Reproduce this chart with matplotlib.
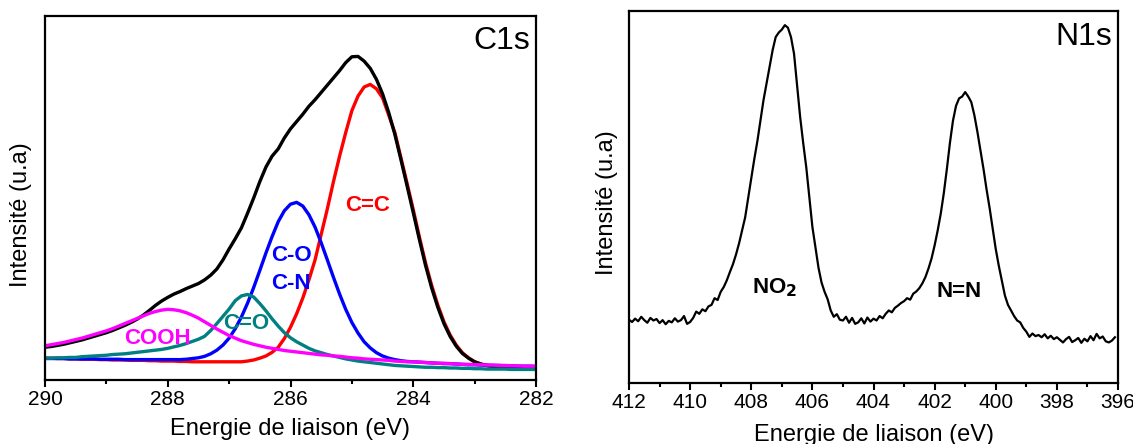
import numpy as np
import matplotlib
matplotlib.use("Agg")
import matplotlib.pyplot as plt
from matplotlib.ticker import MultipleLocator

plt.rcParams['font.family'] = ['Liberation Sans', 'DejaVu Sans']

# ---- C1s data (binding energy grid 290 -> 282, step 0.1 eV) ----
c1s_energy = np.linspace(290.0, 282.0, 81)

c1s_total = [9.0, 9.2, 9.5, 9.8, 10.2, 10.6, 11.0, 11.5, 12.0, 12.5,
             13.0, 13.6, 14.3, 15.0, 15.8, 16.7, 17.8, 19.1, 20.5, 21.7,
             22.7, 23.6, 24.3, 25.1, 25.8, 26.5, 27.5, 28.8, 30.5, 33.0,
             36.0, 38.8, 41.8, 45.8, 50.0, 54.5, 58.5, 61.5, 63.5, 66.5,
             69.0, 71.0, 73.0, 75.2, 77.0, 79.0, 81.0, 83.0, 85.0, 87.2,
             88.8, 88.9, 87.6, 85.6, 82.6, 78.6, 73.5, 67.5, 60.5, 53.3,
             46.0, 38.6, 31.5, 25.3, 20.0, 15.5, 12.0, 9.3, 7.3, 6.0,
             5.0, 4.4, 4.0, 3.7, 3.5, 3.4, 3.2, 3.1, 3.0, 3.0, 3.0]

c1s_cc = [6.0, 6.0, 5.9, 5.9, 5.8, 5.8, 5.7, 5.7, 5.7, 5.6,
          5.6, 5.5, 5.5, 5.5, 5.4, 5.4, 5.4, 5.3, 5.3, 5.2,
          5.2, 5.2, 5.1, 5.1, 5.0, 5.0, 5.0, 5.0, 5.0, 5.0,
          5.0, 5.0, 5.0, 5.2, 5.5, 6.0, 6.6, 7.6, 9.0, 11.4,
          14.5, 18.2, 22.5, 27.5, 33.0, 40.0, 47.0, 54.5, 61.5, 68.0,
          74.0, 78.0, 80.5, 81.2, 80.0, 77.5, 72.8, 68.0, 61.0, 54.0,
          46.8, 39.3, 32.2, 26.0, 20.6, 16.0, 12.4, 9.6, 7.5, 6.1,
          5.0, 4.4, 3.9, 3.6, 3.4, 3.2, 3.1, 3.1, 3.0, 3.0, 3.0]

c1s_co_cn = [5.9, 5.9, 5.9, 5.9, 5.8, 5.8, 5.8, 5.8, 5.8, 5.7,
             5.7, 5.7, 5.7, 5.6, 5.6, 5.6, 5.6, 5.6, 5.6, 5.6,
             5.6, 5.6, 5.6, 5.7, 5.9, 6.1, 6.5, 7.2, 8.2, 9.6,
             11.5, 14.1, 17.3, 21.1, 25.4, 30.1, 34.9, 39.4, 43.5, 46.5,
             48.3, 48.8, 47.8, 45.4, 42.0, 37.7, 33.0, 28.2, 23.6, 19.4,
             15.8, 12.9, 10.5, 8.8, 7.5, 6.6, 6.0, 5.6, 5.3, 5.1,
             5.0, 4.9, 4.8, 4.7, 4.6, 4.5, 4.5, 4.4, 4.3, 4.2,
             4.2, 4.1, 4.1, 4.0, 4.0, 3.9, 3.9, 3.8, 3.8, 3.8, 3.7]

c1s_c_o = [6.0, 6.0, 6.1, 6.1, 6.2, 6.2, 6.4, 6.5, 6.6, 6.7,
           6.8, 7.0, 7.1, 7.2, 7.4, 7.6, 7.8, 8.0, 8.2, 8.4,
           8.7, 9.1, 9.5, 10.0, 10.6, 11.2, 12.0, 13.6, 15.5, 17.5,
           19.5, 21.8, 23.1, 23.5, 22.8, 21.0, 19.0, 16.8, 14.8, 13.0,
           11.6, 10.5, 9.6, 8.7, 8.0, 7.5, 7.0, 6.6, 6.2, 5.8,
           5.5, 5.2, 5.0, 4.8, 4.6, 4.4, 4.2, 4.0, 3.9, 3.8,
           3.7, 3.6, 3.5, 3.5, 3.4, 3.4, 3.3, 3.3, 3.2, 3.2,
           3.1, 3.1, 3.0, 3.0, 3.0, 3.0, 2.9, 2.9, 2.9, 2.9, 2.9]

c1s_cooh = [9.4, 9.7, 10.0, 10.3, 10.7, 11.1, 11.5, 12.0, 12.5, 13.0,
            13.5, 14.1, 14.8, 15.5, 16.2, 16.9, 17.6, 18.3, 18.8, 19.2,
            19.4, 19.3, 19.0, 18.5, 17.8, 17.0, 16.0, 15.0, 14.0, 13.1,
            12.2, 11.5, 10.8, 10.3, 9.8, 9.4, 9.0, 8.7, 8.4, 8.1,
            7.9, 7.7, 7.5, 7.3, 7.1, 6.9, 6.8, 6.6, 6.5, 6.3,
            6.1, 6.0, 5.8, 5.7, 5.6, 5.5, 5.4, 5.2, 5.1, 5.0,
            5.0, 4.9, 4.8, 4.7, 4.6, 4.6, 4.5, 4.4, 4.3, 4.3,
            4.2, 4.2, 4.1, 4.1, 4.0, 4.0, 3.9, 3.9, 3.8, 3.8, 3.8]

# ---- N1s data (binding energy grid 412 -> 396.1, step 0.1 eV) ----
n1s_energy = np.linspace(412.0, 396.1, 160)

n1s_signal = [
    17.0, 16.4, 17.3, 16.6, 17.8, 16.9, 16.2, 17.5, 16.8, 17.2,
    16.1, 16.9, 15.8, 16.7, 16.3, 17.4, 16.5, 16.9, 18.0, 15.9,
    16.4, 17.5, 19.2, 18.6, 19.8, 19.3, 20.6, 21.0, 22.8, 22.3,
    24.5, 25.8, 27.6, 29.8, 31.9, 34.5, 37.5, 41.0, 44.5, 49.8,
    55.0, 60.2, 65.0, 70.5, 76.0, 80.5, 85.0, 89.5, 93.0, 94.2,
    95.0, 96.2, 95.5, 93.0, 88.5, 80.0, 71.5, 64.5, 58.0, 50.0,
    42.0, 36.5, 31.0, 27.0, 24.5, 22.5, 19.5, 17.8, 18.5, 17.0,
    16.8, 17.8, 16.2, 17.5, 15.9, 16.3, 17.4, 16.0, 17.6, 16.5,
    17.3, 16.8, 18.0, 17.4, 18.6, 19.5, 19.0, 20.2, 20.8, 21.5,
    22.0, 22.8, 22.4, 24.0, 24.6, 25.5, 26.8, 28.5, 30.8, 33.5,
    37.0, 41.0, 45.5, 51.0, 57.5, 64.5, 70.5, 74.5, 76.5, 77.0,
    78.2, 77.0, 75.5, 72.0, 67.5, 62.5, 57.5, 52.0, 47.0, 41.5,
    36.0, 31.5, 27.5, 23.5, 21.0, 19.5, 18.0, 16.8, 16.3, 14.8,
    13.8, 12.4, 13.3, 12.6, 12.9, 12.3, 13.1, 12.0, 12.7, 11.8,
    12.3, 11.6, 10.9, 11.8, 12.4, 11.0, 11.5, 12.1, 10.8, 11.9,
    11.2, 12.6, 11.5, 13.2, 12.0, 12.5, 11.2, 10.9, 11.4, 12.3,
]

fig = plt.figure(figsize=(11.33, 4.44), dpi=100)
ax1 = fig.add_axes([45 / 1133, 64 / 444, 491 / 1133, 364 / 444])
ax2 = fig.add_axes([629 / 1133, 61 / 444, 489 / 1133, 372 / 444])


def style_axis(ax, xlim, major, minor, xpad, ylab_xy):
    ax.set_xlim(*xlim)
    ax.set_ylim(0, 100)
    ax.set_yticks([])
    ax.xaxis.set_major_locator(MultipleLocator(major))
    ax.xaxis.set_minor_locator(MultipleLocator(minor))
    ax.tick_params(axis='x', which='major', direction='out', length=5,
                   width=1.5, labelsize=15, pad=2)
    ax.tick_params(axis='x', which='minor', direction='out', length=3,
                   width=1.5)
    for sp in ax.spines.values():
        sp.set_linewidth(1.6)
    ax.set_xlabel('Energie de liaison (eV)', fontsize=17, labelpad=xpad)
    ax.set_ylabel('Intensité (u.a)', fontsize=17)
    ax.yaxis.set_label_coords(*ylab_xy)


# C1s panel
lw = 2.4
ax1.plot(c1s_energy, c1s_cc, color='#ff0000', lw=lw)
ax1.plot(c1s_energy, c1s_total, color='black', lw=lw)
ax1.plot(c1s_energy, c1s_co_cn, color='#0000ff', lw=lw)
ax1.plot(c1s_energy, c1s_c_o, color='#008080', lw=lw)
ax1.plot(c1s_energy, c1s_cooh, color='#ff00ff', lw=lw)
style_axis(ax1, (290, 282), 2, 1, 7, (-0.026, 0.455))

ax1.text(282.1, 93, 'C1s', fontsize=23, ha='right', va='center')
lab = dict(fontsize=16, weight='bold', ha='center', va='center')
ax1.text(284.74, 47.9, 'C=C', color='#ff0000', **lab)
ax1.text(285.98, 34.2, 'C-O', color='#0000ff', **lab)
ax1.text(286.0, 26.4, 'C-N', color='#0000ff', **lab)
ax1.text(286.73, 15.4, 'C=O', color='#008080', **lab)
ax1.text(288.17, 11.5, 'COOH', color='#ff00ff', **lab)

# N1s panel
ax2.plot(n1s_energy, n1s_signal, color='black', lw=1.6)
style_axis(ax2, (412, 396), 2, 1, 9, (-0.0225, 0.484))

ax2.text(396.2, 93, 'N1s', fontsize=23, ha='right', va='center')
ax2.text(407.24, 25.7, r'NO$_\mathbf{2}$', color='black', **lab)
ax2.text(401.2, 24.6, 'N=N', color='black', **lab)

fig.savefig('out.png', dpi=100)
